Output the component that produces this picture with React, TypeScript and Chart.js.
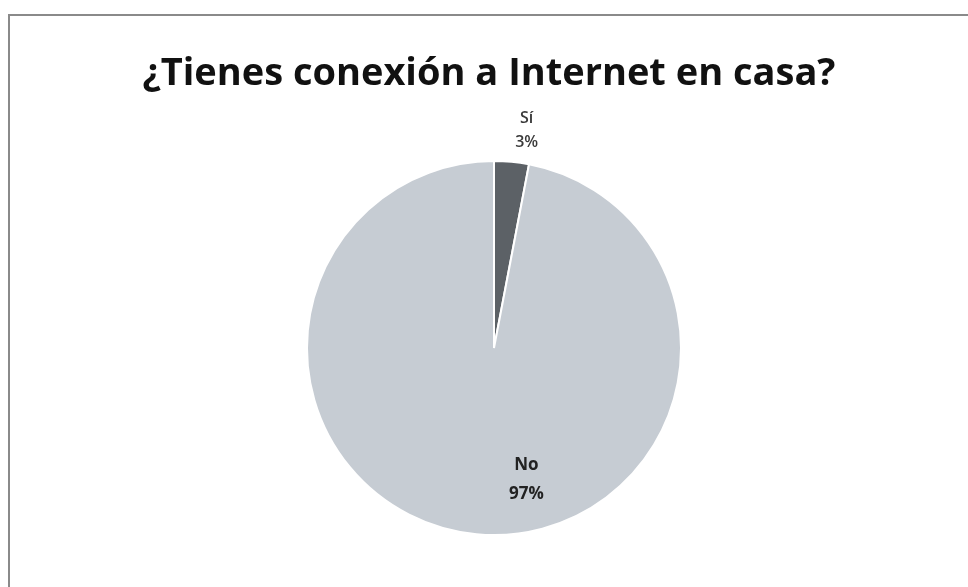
import React, { useEffect, useRef } from "react";
import { Chart, registerables } from "chart.js";

Chart.register(...registerables);

const TITLE = "¿Tienes conexión a Internet en casa?";
const categories = ["Sí", "No"];
const values = [3, 97];
const labelsPct = ["3%", "97%"];
const colors = ["#5c6166", "#c6ccd3"];

export default function App() {
  const ref = useRef<HTMLCanvasElement | null>(null);

  useEffect(() => {
    if (!ref.current) return;
    const labelPlugin = {
      id: "labelsAndTitle",
      afterDraw(chart: any) {
        const ctx = chart.ctx;
        ctx.save();
        // title
        ctx.fillStyle = "#111";
        ctx.font = "bold 38px 'Open Sans'";
        ctx.textAlign = "center";
        ctx.textBaseline = "middle";
        ctx.fillText(TITLE, 489, 74);
        const meta = chart.getDatasetMeta(0);
        const arcs = meta.data;
        // Sí label: outside, near its arc middle
        const a0 = arcs[0];
        const cx = a0.x, cy = a0.y, r = a0.outerRadius;
        const mid0 = (a0.startAngle + a0.endAngle) / 2;
        const r0 = r + 32;
        const x0 = cx + Math.cos(mid0) * r0;
        const y0 = cy + Math.sin(mid0) * r0;
        ctx.fillStyle = "#3a3a3a";
        ctx.font = "600 16px 'Open Sans'";
        ctx.fillText(categories[0], x0 + 12, y0 - 12);
        ctx.fillText(labelsPct[0], x0 + 12, y0 + 12);
        // No label: inside, best fit
        const ang1 = Math.PI / 2 - 0.24;
        const r1 = r * 0.73;
        const x1 = cx + Math.cos(ang1) * r1;
        const y1 = cy + Math.sin(ang1) * r1;
        ctx.fillStyle = "#222";
        ctx.font = "bold 17px 'Open Sans'";
        ctx.fillText(categories[1], x1, y1 - 15);
        ctx.fillText(labelsPct[1], x1, y1 + 14);
        ctx.restore();
      },
    };
    const chart = new Chart(ref.current, {
      type: "pie",
      data: {
        labels: categories,
        datasets: [
          {
            data: values,
            backgroundColor: colors,
            borderColor: "#ffffff",
            borderWidth: 2,
          },
        ],
      },
      options: {
        animation: false,
        responsive: false,
        layout: { padding: { left: 306, right: 286, top: 160, bottom: 51 } },
        plugins: {
          legend: { display: false },
          title: { display: false },
          tooltip: { enabled: false },
        },
      },
      plugins: [labelPlugin],
    });
    return () => chart.destroy();
  }, []);

  return (
    <div style={{ position: "absolute", left: 0, top: 0, width: 968, height: 587, background: "#fff", overflow: "hidden" }}>
      <div
        style={{
          position: "absolute",
          left: 8,
          top: 14,
          width: 980,
          height: 600,
          borderLeft: "2px solid #8a8a8a",
          borderTop: "2px solid #8a8a8a",
        }}
      />
      <canvas ref={ref} width={968} height={587} style={{ position: "absolute", left: 0, top: 0 }} />
    </div>
  );
}
